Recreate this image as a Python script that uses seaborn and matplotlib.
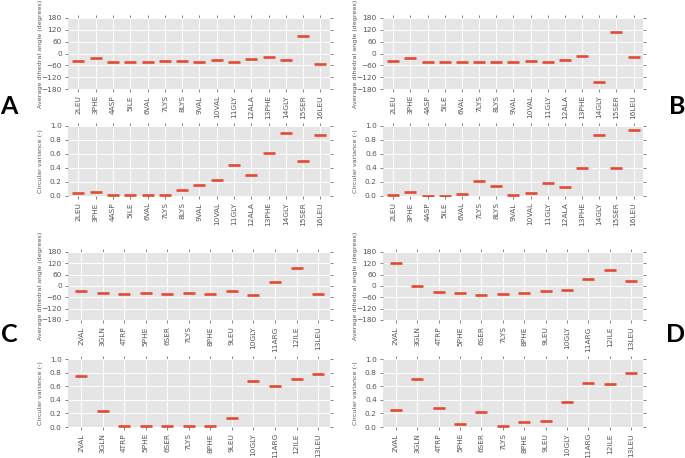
import matplotlib
matplotlib.use("Agg")
import matplotlib.pyplot as plt
import seaborn as sns
import numpy as np

# ---- data ----
res_ab = ["2LEU", "3PHE", "4ASP", "5ILE", "6VAL", "7LYS", "8LYS", "9VAL",
          "10VAL", "11GLY", "12ALA", "13PHE", "14GLY", "15SER", "16LEU"]
res_cd = ["2VAL", "3GLN", "4TRP", "5PHE", "6SER", "7LYS", "8PHE", "9LEU",
          "10GLY", "11ARG", "12ILE", "13LEU"]

angle_a = [-38, -21, -42, -42, -45, -38, -38, -42, -35, -42, -28, -17, -35, 91, -51]
var_a = [0.043, 0.057, 0.01, 0.01, 0.01, 0.02, 0.085, 0.156, 0.223, 0.436,
         0.294, 0.611, 0.905, 0.493, 0.877]

angle_b = [-38, -21, -41, -41, -41, -43, -43, -45, -36, -45, -31, -12, -142, 108, -19]
var_b = [0.02, 0.057, 0.005, 0.005, 0.024, 0.214, 0.143, 0.01, 0.038, 0.186,
         0.133, 0.405, 0.871, 0.40, 0.948]

angle_c = [-28, -35, -43, -39, -41, -39, -44, -27, -50, 21, 97, -41]
var_c = [0.75, 0.235, 0.01, 0.01, 0.01, 0.015, 0.01, 0.127, 0.676, 0.608, 0.706, 0.775]

angle_d = [123, -2, -32, -35, -46, -44, -39, -26, -23, 39, 83, 25]
var_d = [0.25, 0.711, 0.279, 0.049, 0.22, 0.015, 0.069, 0.083, 0.373, 0.652, 0.632, 0.80]

angle_ticks = [-180, -120, -60, 0, 60, 120, 180]
var_ticks = [0.0, 0.2, 0.4, 0.6, 0.8, 1.0]

plt.style.use("ggplot")
RED = "#E24A33"
GRAY = "#555555"

fig = plt.figure(figsize=(6.85, 4.58), dpi=100)
W, H = 685.0, 458.0


def make_ax(left, right, top, bottom):
    return fig.add_axes([left / W, 1 - bottom / H, (right - left) / W, (bottom - top) / H])


def panel(ax, labels, values, kind):
    sns.scatterplot(x=labels, y=values, marker="_", s=75, linewidth=1.9,
                    color=RED, ax=ax, zorder=3)
    n = len(labels)
    ax.set_xlim(-0.6, n - 1 + 0.55)
    if kind == "angle":
        ax.set_ylim(-180, 180)
        ax.set_yticks(angle_ticks)
        ax.set_ylabel("Average dihedral angle (degrees)", fontsize=4.6, color=GRAY)
    else:
        ax.set_ylim(0, 1.0)
        ax.set_yticks(var_ticks)
        ax.set_yticklabels([f"{t:.1f}" for t in var_ticks])
        ax.set_ylabel("Circular variance (-)", fontsize=4.6, color=GRAY)
    ax.yaxis.set_label_coords(-0.095, 0.5)
    ax.set_facecolor("#E5E5E5")
    ax.grid(True, color="white", linewidth=0.7)
    ax.set_axisbelow(True)
    for s in ax.spines.values():
        s.set_visible(False)
    ax.tick_params(axis="both", which="major", direction="out", length=2.5, width=0.5,
                   colors=GRAY, labelsize=5.3, top=True, right=True, pad=2)
    ax.tick_params(axis="x", labelrotation=90)
    for lab in ax.get_yticklabels():
        lab.set_color(GRAY)


LA, RA = 68, 330
LB, RB = 383, 643

panel(make_ax(LA, RA, 18, 89), res_ab, angle_a, "angle")
panel(make_ax(LA, RA, 126, 196), res_ab, var_a, "var")
panel(make_ax(LB, RB, 18, 89), res_ab, angle_b, "angle")
panel(make_ax(LB, RB, 126, 196), res_ab, var_b, "var")
panel(make_ax(LA, RA, 252, 320), res_cd, angle_c, "angle")
panel(make_ax(LA, RA, 359, 427), res_cd, var_c, "var")
panel(make_ax(LB, RB, 252, 320), res_cd, angle_d, "angle")
panel(make_ax(LB, RB, 359, 427), res_cd, var_d, "var")

for letter, x, y in [("A", 9, 107), ("B", 677, 107), ("C", 9, 335), ("D", 676, 334)]:
    fig.text(x / W, 1 - y / H, letter, fontsize=18, fontweight="bold",
             family=["Lato", "DejaVu Sans"], color="black", ha="center", va="center")

fig.savefig("out.png", dpi=100, facecolor="white")
